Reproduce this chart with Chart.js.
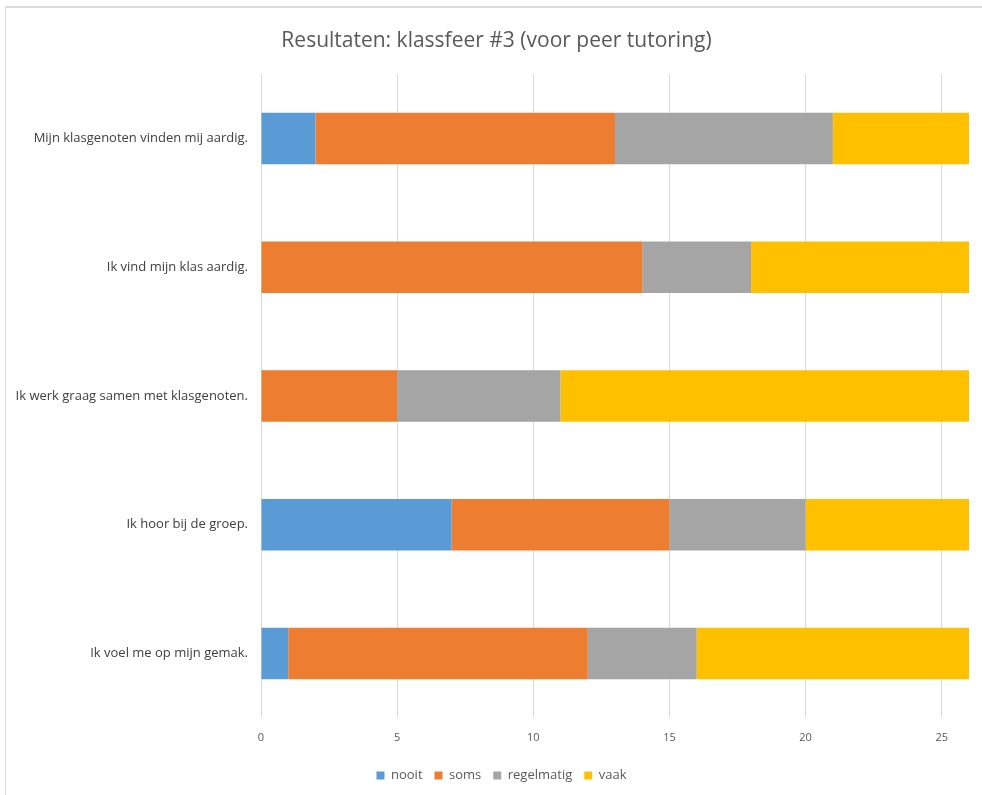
<!DOCTYPE html>
<html>
<head>
<meta charset="utf-8">
<script src="https://cdn.jsdelivr.net/npm/chart.js@4.4.1/dist/chart.umd.min.js"></script>
<style>
  html, body { margin: 0; padding: 0; background: #fff; overflow: hidden; }
  #frame { position: absolute; left: 5px; top: 6px; width: 977px; height: 800px;
           border-top: 2px solid #dcdcdc; border-left: 1px solid #dcdcdc; box-sizing: border-box; }
  #wrap { position: absolute; left: 0; top: 0; width: 976px; height: 792px; }
</style>
</head>
<body>
<div id="frame"><div id="wrap"><canvas id="c"></canvas></div></div>
<script>
const categories = [
  "Mijn klasgenoten vinden mij aardig.",
  "Ik vind mijn klas aardig.",
  "Ik werk graag samen met klasgenoten.",
  "Ik hoor bij de groep.",
  "Ik voel me op mijn gemak."
];
const seriesNames = ["nooit", "soms", "regelmatig", "vaak"];
const nooit      = [2, 0, 0, 7, 1];
const soms       = [11, 14, 5, 8, 11];
const regelmatig = [8, 4, 6, 5, 4];
const vaak       = [5, 8, 15, 6, 10];
const xTicks = [0, 5, 10, 15, 20, 25];
const xMax = 26;
const titleText = "Resultaten: klassfeer #3 (voor peer tutoring)";

const colors = ["#5B9BD5", "#ED7D31", "#A5A5A5", "#FFC000"];
const values = [nooit, soms, regelmatig, vaak];

const FONT = "'Open Sans', 'Noto Sans', sans-serif";

const shiftBlocks = {
  id: 'shiftBlocks',
  afterLayout(chart) {
    if (chart.titleBlock) { chart.titleBlock.left += 9; chart.titleBlock.right += 9; }
    if (chart.legend) { chart.legend.left += 14; chart.legend.right += 14; }
  }
};

new Chart(document.getElementById('c'), {
  type: 'bar',
  data: {
    labels: categories,
    datasets: seriesNames.map((n, i) => ({
      label: n,
      data: values[i],
      backgroundColor: colors[i],
      borderWidth: 0,
      categoryPercentage: 1,
      barPercentage: 0.4
    }))
  },
  plugins: [shiftBlocks],
  options: {
    indexAxis: 'y',
    responsive: true,
    maintainAspectRatio: false,
    animation: false,
    layout: { padding: { left: 0, right: 13, top: 0, bottom: 8 } },
    plugins: {
      title: {
        display: true,
        text: titleText,
        color: '#595959',
        font: { family: FONT, size: 21, weight: 'normal' },
        padding: { top: 20, bottom: 21 }
      },
      legend: {
        position: 'bottom',
        labels: {
          boxWidth: 8, boxHeight: 8,
          color: '#595959',
          font: { family: FONT, size: 13 },
          padding: 12
        }
      },
      tooltip: { enabled: false }
    },
    scales: {
      x: {
        stacked: true,
        min: 0, max: xMax,
        afterBuildTicks: (s) => { s.ticks = xTicks.map(v => ({ value: v })); },
        ticks: { includeBounds: false, color: '#595959', font: { family: FONT, size: 11 }, padding: 13 },
        grid: { color: '#d9d9d9', drawTicks: false },
        border: { display: false }
      },
      y: {
        stacked: true,
        afterFit: (s) => { s.width = 255; },
        ticks: { color: '#404040', font: { family: FONT, size: 13 }, padding: 13 },
        grid: { display: false, drawTicks: false },
        border: { display: false }
      }
    }
  }
});
</script>
</body>
</html>
